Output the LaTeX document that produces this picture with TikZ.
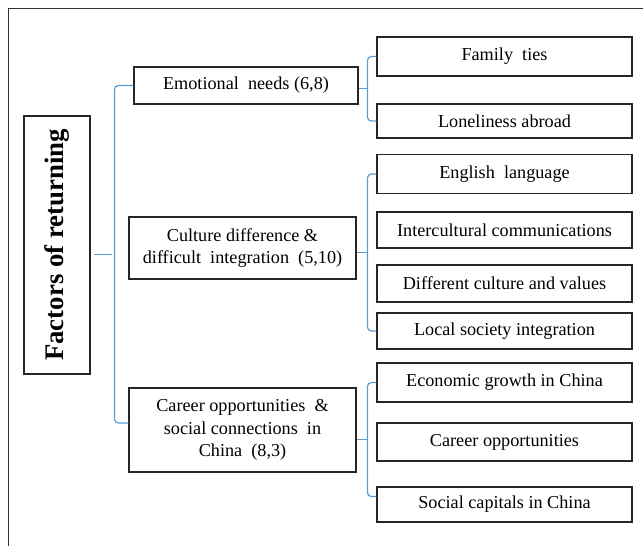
\documentclass[tikz,border=0pt]{standalone}
\usepackage{fontspec}
\setmainfont{Liberation Serif}
\usetikzlibrary{calc}
\definecolor{bracketblue}{RGB}{91,155,213}
\begin{document}
\begin{tikzpicture}[x=1pt,y=-1pt,
  factor/.style={draw=black!85,line width=1.2pt,inner sep=0pt,minimum width=255pt,minimum height=37pt,font=\fontsize{18.2}{21}\selectfont},
  group/.style={draw=black!85,line width=1.2pt,inner sep=0pt,align=center,font=\fontsize{18.2}{22.5}\selectfont},
  bracket/.style={bracketblue,line width=1.2pt,rounded corners=4pt}]
\useasboundingbox (0,0) rectangle (643,546);
\draw[black!80,line width=0.9pt] (8,546) -- (8,8) -- (643,8);
\node[draw=black!85,line width=1.2pt,rotate=90,minimum width=258pt,minimum height=66pt,inner sep=0pt,font=\fontsize{26.8}{30}\selectfont\bfseries] (root) at (57,245) {Factors of returning};
\node[group,minimum width=224pt,minimum height=37pt] (emo) at (246,85.5) {Emotional\ \ needs (6,8)};
\node[group,minimum width=227pt,minimum height=62pt] (culture) at (242.5,248) {Culture difference \&\\difficult\ \ integration\ \ (5,10)};
\node[group,minimum width=227pt,minimum height=84pt] (career) at (242.5,430) {Career opportunities\ \ \&\\social connections\ \ in\\China\ \ (8,3)};
\node[factor,minimum height=39pt] (family) at (504.5,56.5) {Family\ \ ties};
\node[factor,minimum height=34pt] (lonely) at (504.5,121) {Loneliness abroad};
\node[factor,minimum height=39pt] (english) at (504.5,174) {English\ \ language};
\node[factor,minimum height=36pt] (intercult) at (504.5,230) {Intercultural communications};
\node[factor] (values) at (504.5,283.5) {Different culture and values};
\node[factor,minimum height=36pt] (local) at (504.5,331) {Local society integration};
\node[factor,minimum height=39pt] (economy) at (504.5,382.5) {Economic growth in China};
\node[factor,minimum height=38pt] (careeropp) at (504.5,442) {Career opportunities};
\node[factor,minimum height=35pt] (social) at (504.5,504.5) {Social capitals in China};
\draw[bracket] (emo.west) -- ++(-19,0) |- ([yshift=7pt]career.west);
\path ($(emo.west)!.5!([yshift=7pt]career.west)$) ++(-19,0) coordinate (rootjoin);
\draw[bracket] (rootjoin) -- ++(-18,0);
\draw[bracket] (family.west) -- ++(-9,0) |- (lonely.west);
\path ($(family.west)!.5!(lonely.west)$) ++(-9,0) coordinate (emojoin);
\draw[bracket] (emojoin) -- (emojoin -| emo.east);
\draw[bracket] (english.west) -- ++(-9,0) |- (local.west);
\path ($(english.west)!.5!(local.west)$) ++(-9,0) coordinate (culturejoin);
\draw[bracket] (culturejoin) -- (culturejoin -| culture.east);
\draw[bracket] (economy.west) -- ++(-9,0) |- ([yshift=8pt]social.west);
\path ($(economy.west)!.5!([yshift=8pt]social.west)$) ++(-9,0) coordinate (careerjoin);
\draw[bracket] (careerjoin) -- (careerjoin -| career.east);
\end{tikzpicture}
\end{document}
